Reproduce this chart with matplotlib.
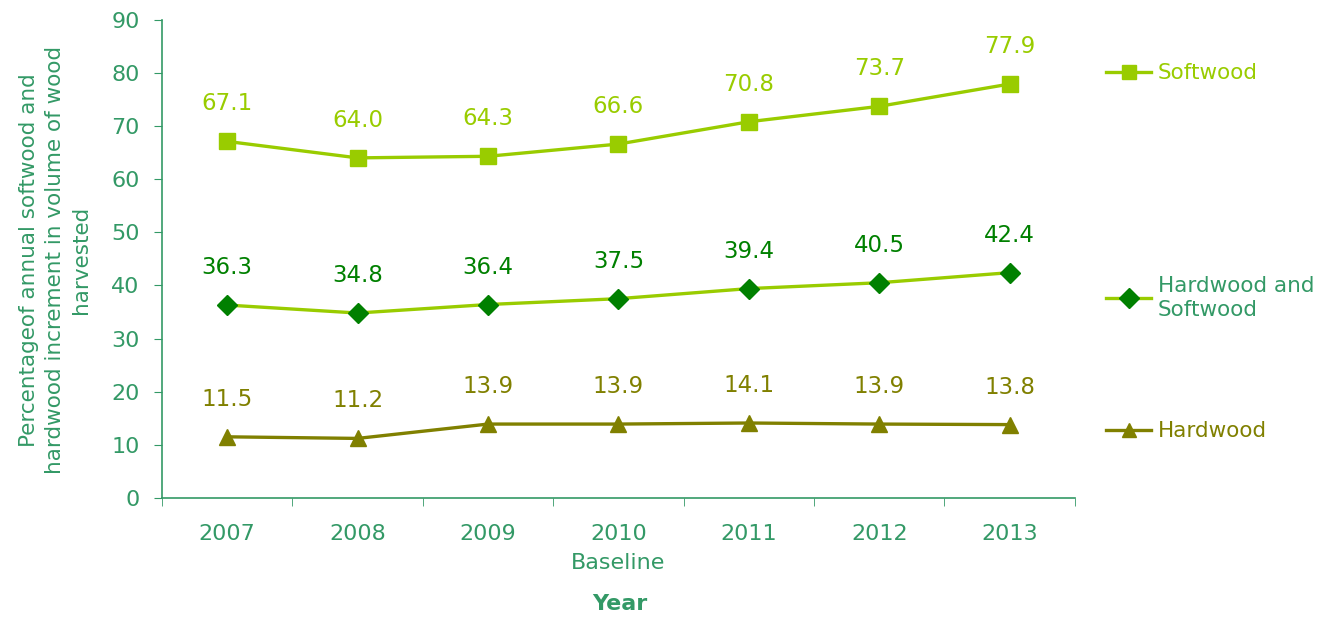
import numpy as np
import matplotlib
matplotlib.use("Agg")
import matplotlib.pyplot as plt
from matplotlib.lines import Line2D

# harvest increment percentages by year
years = ["2007", "2008", "2009", "2010", "2011", "2012", "2013"]
softwood = [67.1, 64.0, 64.3, 66.6, 70.8, 73.7, 77.9]
hard_and_soft = [36.3, 34.8, 36.4, 37.5, 39.4, 40.5, 42.4]
hardwood = [11.5, 11.2, 13.9, 13.9, 14.1, 13.9, 13.8]

axis_col = "#339966"
light = "#99CC00"
dark = "#008000"
olive = "#808000"

plt.rcParams["font.family"] = ["DejaVu Sans"]

fig = plt.figure(figsize=(13.27, 6.17), dpi=100)
ax = fig.add_axes([0.122, 0.193, 0.688, 0.775])

x = np.arange(len(years))
series = [
    (softwood, light, light, "s", 11, light),
    (hard_and_soft, light, dark, "D", 10, dark),
    (hardwood, olive, olive, "^", 11, olive),
]
for vals, lc, mc, mk, ms, tc in series:
    ax.plot(x, vals, color=lc, lw=2.4, marker=mk, ms=ms,
            markerfacecolor=mc, markeredgecolor=mc, zorder=3)
    for xi, v in zip(x, vals):
        ax.annotate(f"{v:.1f}", (xi, v), xytext=(0, 27), textcoords="offset points",
                    ha="center", va="center", fontsize=16.5, color=tc)

ax.set_xlim(-0.5, len(years) - 0.5)
ax.set_ylim(0, 90)
ax.set_yticks(range(0, 91, 10))
ax.set_xticks(x)
ax.set_xticklabels(years)
ax.set_xticks(np.arange(-0.5, len(years), 1), minor=True)
ax.tick_params(axis="x", which="major", length=0, pad=19, labelsize=16, labelcolor=axis_col)
ax.tick_params(axis="x", which="minor", length=6, color=axis_col, direction="out")
ax.tick_params(axis="y", length=6, color=axis_col, labelsize=16, labelcolor=axis_col, pad=10)

for s in ["top", "right"]:
    ax.spines[s].set_visible(False)
for s in ["left", "bottom"]:
    ax.spines[s].set_color(axis_col)
    ax.spines[s].set_linewidth(1.2)

ax.text(3, -12.3, "Baseline", ha="center", va="center", fontsize=16, color=axis_col)
fig.text(0.467, 0.021, "Year", ha="center", va="center", fontsize=16,
         fontweight="bold", color=axis_col)
fig.text(0.0415, 0.579,
         "Percentageof annual softwood and\nhardwood increment in volume of wood\nharvested",
         rotation=90, ha="center", va="center", fontsize=15.5, color=axis_col,
         linespacing=1.4)

# one legend box per series, stacked down the right side
legend_rows = [
    (light, light, "s", "Softwood", light, 0.881),
    (light, dark, "D", "Hardwood and\nSoftwood", axis_col, 0.517),
    (olive, olive, "^", "Hardwood", olive, 0.301),
]
for lc, mc, mk, name, tc, ypos in legend_rows:
    h = Line2D([], [], color=lc, lw=2.4, marker=mk, ms=10, markerfacecolor=mc,
               markeredgecolor=mc)
    leg = fig.legend([h], [name], loc="center left", bbox_to_anchor=(0.819, ypos),
                     frameon=False, fontsize=15.5, handlelength=2.1, handletextpad=0.3)
    for t in leg.get_texts():
        t.set_color(tc)

fig.savefig("out.png", dpi=100)
